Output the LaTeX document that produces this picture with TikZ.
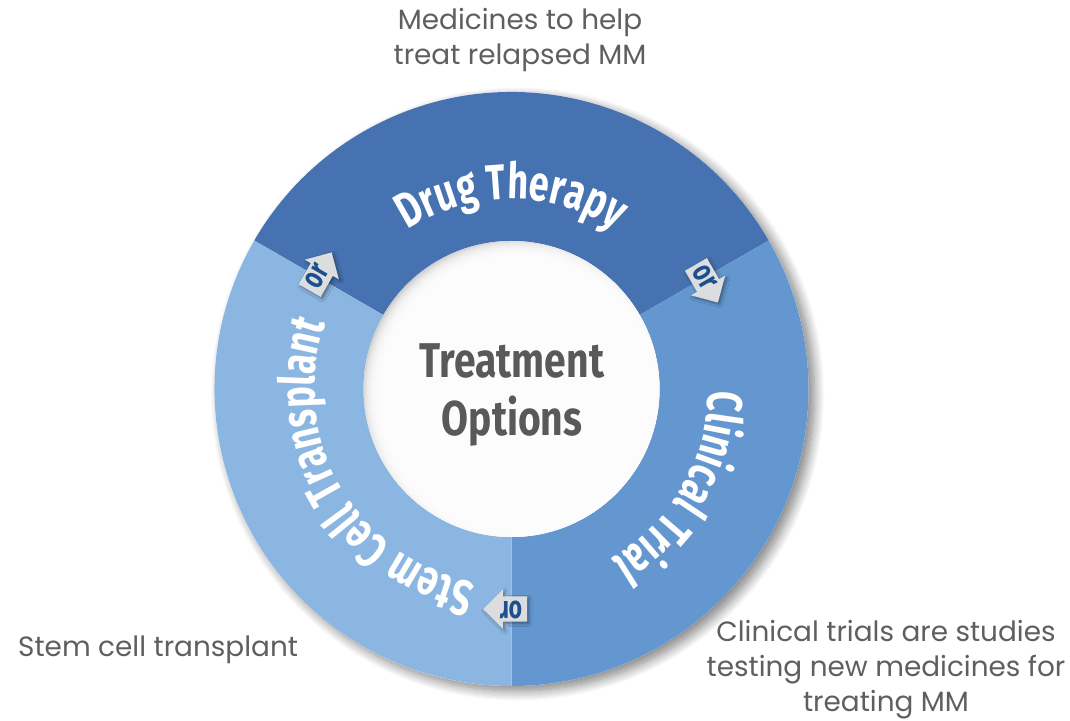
\documentclass[tikz,border=0pt]{standalone}
\usepackage{fontspec}
\setmainfont{Poppins}
\newfontfamily\ringfont[FakeStretch=0.72]{Fira Sans}
\newfontfamily\titlefont[FakeStretch=0.8]{Fira Sans}
\usetikzlibrary{shapes.arrows,shadows.blur,decorations.text}
\definecolor{drug}{HTML}{4672B1}
\definecolor{clin}{HTML}{6497D0}
\definecolor{stem}{HTML}{8CB6E2}
\definecolor{desc}{HTML}{5F5F5F}
\definecolor{arrowgray}{HTML}{DCDDDF}
\definecolor{ortext}{HTML}{1B4F8E}
\definecolor{centergray}{HTML}{58595B}
\begin{document}
\begin{tikzpicture}[x=1bp,y=1bp,
  descr/.style={text=desc, font=\fontsize{28}{35}\selectfont, align=center, inner sep=0pt},
  orarrow/.style={single arrow, fill=arrowgray, single arrow head extend=7bp, single arrow tip angle=90,
    minimum height=44bp, inner xsep=2bp, inner ysep=5bp, text height=15bp, text depth=0bp,
    text=ortext, font=\ringfont\bfseries\fontsize{32}{32}\selectfont,
    blur shadow={shadow xshift=2bp, shadow yshift=-2bp, shadow blur radius=3bp, shadow opacity=40}},
  ringtext/.style={decorate, decoration={text along path, text align=center, text color=white,
    text={|\ringfont\bfseries\fontsize{50}{50}\selectfont|#1}}}
]
\useasboundingbox (0,0) rectangle (1070,721);
\coordinate (C) at (511.5,332);
% outer shadow
\fill[white, blur shadow={shadow xshift=6bp, shadow yshift=-5bp, shadow blur radius=10bp, shadow blur steps=12, shadow opacity=50}] (C) circle[radius=297];
% segments
\fill[drug] ([shift={(30:297)}]C) arc[start angle=30,end angle=150,radius=297]
  -- ([shift={(150:148)}]C) arc[start angle=150,end angle=30,radius=148] -- cycle;
\fill[clin] ([shift={(-90:297)}]C) arc[start angle=-90,end angle=30,radius=297]
  -- ([shift={(30:148)}]C) arc[start angle=30,end angle=-90,radius=148] -- cycle;
\fill[stem] ([shift={(150:297)}]C) arc[start angle=150,end angle=270,radius=297]
  -- ([shift={(270:148)}]C) arc[start angle=270,end angle=150,radius=148] -- cycle;
% inner circle
\begin{scope}
\clip (C) circle[radius=148];
\fill[gray!45] (C) circle[radius=148];
\foreach \r in {156,154,...,136} \fill[white, opacity=0.3] ([shift={(7,-6)}]C) circle[radius=\r];
\end{scope}
% curved texts
\path[ringtext={Drug Therapy}] ([shift={(150:190)}]C) arc[start angle=150,end angle=30,radius=190];
\path[ringtext={Clinical Trial}] ([shift={(30:197)}]C) arc[start angle=30,end angle=-90,radius=197];
\path[ringtext={Stem Cell Transplant}] ([shift={(270:197)}]C) arc[start angle=270,end angle=150,radius=197];
% center
\node[font=\titlefont\bfseries\fontsize{49}{58}\selectfont, text=centergray, align=center] (title) at (512,326) {Treatment\\Options};
% or arrows
\node[orarrow, rotate=60] (or1) at ([shift={(150:224)}]C) {or};
\node[orarrow, rotate=-60] (or2) at ([shift={(30:222)}]C) {or};
\node[orarrow, rotate=180] (or3) at ([shift={(-90:220)}]C) {or};
% descriptions
\node[descr] (d1) at (520,681) {Medicines to help\\treat relapsed MM};
\node[descr, anchor=west] (d2) at (18,71) {Stem cell transplant};
\node[descr] (d3) at (886,51) {Clinical trials are studies\\testing new medicines for\\treating MM};
\end{tikzpicture}
\end{document}
